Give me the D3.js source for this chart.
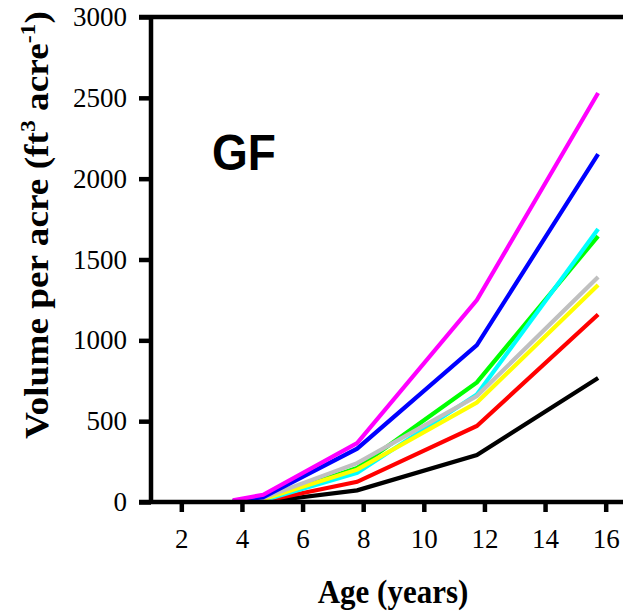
<!DOCTYPE html>
<html><head><meta charset="utf-8">
<script src="https://cdn.jsdelivr.net/npm/d3@7"></script>
<style>body{margin:0;background:#fff}svg{display:block}</style>
</head><body>
<svg id="c" width="623" height="613"></svg>
<script>
const ages = [3.7, 4.7, 7.8, 11.75, 15.75];
const seriesNames = ["black","red","green","cyan","yellow","gray","blue","magenta"];
const seriesColors = ["#000000","#ff0000","#00ff00","#00ffff","#ffff00","#c0c0c0","#0000ff","#ff00ff"];
const black   = [0, 0, 72, 290, 767];
const red     = [0, 5, 125, 470, 1160];
const green   = [3, 15, 210, 740, 1645];
const cyan    = [2, 10, 180, 665, 1688];
const yellow  = [3, 18, 200, 615, 1342];
const gray    = [8, 25, 240, 655, 1391];
const blue    = [5, 30, 330, 971, 2152];
const magenta = [10, 45, 365, 1249, 2530];
const seriesValues = [black, red, green, cyan, yellow, gray, blue, magenta];
const xTicks = [2,4,6,8,10,12,14,16];
const yTicks = [0,500,1000,1500,2000,2500,3000];
const panelLabel = "GF";

const svg = d3.select("#c");
const x = d3.scaleLinear().domain([1,17]).range([151, 636]);
const y = d3.scaleLinear().domain([0,3000]).range([502, 17]);

// lines
const line = d3.line().x((d,i)=>x(ages[i])).y(d=>y(d));
svg.append("g").selectAll("path").data(seriesValues).join("path")
  .attr("d", d=>line(d)).attr("fill","none")
  .attr("stroke",(d,i)=>seriesColors[i]).attr("stroke-width",4.2)
  .attr("stroke-linejoin","miter");

const serif = "Liberation Serif, Times New Roman, serif";

// y axis
const ya = svg.append("g").attr("transform","translate(151,0)")
  .call(d3.axisLeft(y).tickValues(yTicks).tickSize(12).tickPadding(12).tickFormat(d3.format("d")));
ya.select(".domain").attr("stroke-width",4.5).attr("d","M0,15V504");
ya.selectAll(".tick line").attr("stroke-width",4.5);
ya.selectAll(".tick text").attr("font-family",serif)
  .attr("font-size",27).attr("fill","#000");

// top border
svg.append("line").attr("x1",139).attr("x2",623).attr("y1",y(3000)).attr("y2",y(3000))
  .attr("stroke","#000").attr("stroke-width",4.5);

// x axis
const xa = svg.append("g").attr("transform","translate(0,502)")
  .call(d3.axisBottom(x).tickValues(xTicks).tickSize(10).tickPadding(17).tickFormat(d3.format("d")));
xa.select(".domain").attr("stroke-width",4.5).attr("d","M139,0H640");
xa.selectAll(".tick line").attr("stroke-width",4.5);
xa.selectAll(".tick text").attr("font-family",serif)
  .attr("font-size",27).attr("fill","#000");

// axis titles
svg.append("text").attr("transform","translate(393,603) scale(1,1.1)").attr("text-anchor","middle")
  .attr("font-family",serif).attr("font-weight","bold")
  .attr("font-size",31).text("Age (years)");

const yt = svg.append("text").attr("transform","translate(48,225) rotate(-90) scale(1.13,1)")
  .attr("text-anchor","middle")
  .attr("font-family",serif).attr("font-weight","bold")
  .attr("font-size",33);
yt.append("tspan").text("Volume per acre (ft");
yt.append("tspan").attr("dy",-13).attr("font-size",21).text("3");
yt.append("tspan").attr("dy",13).text(" acre");
yt.append("tspan").attr("dy",-13).attr("font-size",21).text("-1");
yt.append("tspan").attr("dy",13).text(")");

svg.append("text").attr("transform","translate(212,170) scale(1,1.08)")
  .attr("font-family","Liberation Sans, Arial, sans-serif").attr("font-weight","bold")
  .attr("font-size",46).text(panelLabel);
</script>
</body></html>
